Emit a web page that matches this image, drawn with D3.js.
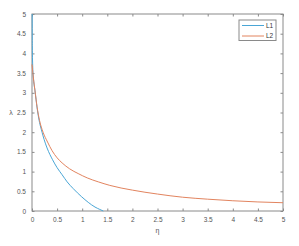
<!DOCTYPE html>
<html>
<head>
<meta charset="utf-8">
<script src="https://cdn.jsdelivr.net/npm/d3@7"></script>
<style>
  body { margin: 0; background: #fff; }
  svg { display: block; }
</style>
</head>
<body>
<svg width="299" height="246"></svg>
<script>
const eta1 = [0.003, 0.006, 0.015, 0.03, 0.06, 0.1, 0.133, 0.2, 0.24, 0.3, 0.41, 0.5, 0.6, 0.7, 0.82, 0.99, 1.12, 1.255, 1.35, 1.42];
const lam1 = [5, 4.2, 3.65, 3.35, 3.05, 2.63, 2.36, 2.0, 1.82, 1.6, 1.3, 1.1, 0.92, 0.74, 0.57, 0.36, 0.22, 0.1, 0.04, 0];
const eta2 = [0, 0.03, 0.06, 0.1, 0.15, 0.22, 0.31, 0.4, 0.5, 0.6, 0.75, 0.92, 1.1, 1.32, 1.55, 2, 2.5, 3, 3.5, 4, 4.5, 5];
const lam2 = [3.72, 3.35, 3.05, 2.65, 2.3, 2.0, 1.75, 1.53, 1.35, 1.22, 1.07, 0.95, 0.84, 0.74, 0.65, 0.53, 0.43, 0.35, 0.3, 0.26, 0.23, 0.21];
const ticks = [0, 0.5, 1, 1.5, 2, 2.5, 3, 3.5, 4, 4.5, 5];
const names = ["L1", "L2"];
const colors = ["#4aa6d6", "#e2845f"];

const svg = d3.select("svg");
const L = 32, R = 283, T = 14, B = 211;
const x = d3.scaleLinear().domain([0, 5]).range([L, R]);
const y = d3.scaleLinear().domain([0, 5]).range([B, T]);
const fmt = d => String(d);
const font = "Liberation Sans, Arial, sans-serif";
const axisCol = "#8a8a8a";

function styleAxis(g, showText) {
  g.select(".domain").remove();
  g.selectAll(".tick line").attr("stroke", axisCol);
  g.selectAll(".tick text").attr("fill", "#555").attr("font-size", "6.5px").attr("font-family", font);
  if (!showText) g.selectAll(".tick text").remove();
}

svg.append("g").attr("transform", `translate(0,${B})`)
  .call(d3.axisBottom(x).tickValues(ticks).tickFormat(fmt).tickSizeInner(-2.5).tickSizeOuter(0).tickPadding(6))
  .call(g => styleAxis(g, true));
svg.append("g").attr("transform", `translate(0,${T})`)
  .call(d3.axisTop(x).tickValues(ticks).tickSizeInner(-2.5).tickSizeOuter(0))
  .call(g => styleAxis(g, false));
svg.append("g").attr("transform", `translate(${L},0)`)
  .call(d3.axisLeft(y).tickValues(ticks).tickFormat(fmt).tickSizeInner(-2.5).tickSizeOuter(0).tickPadding(6))
  .call(g => styleAxis(g, true));
svg.append("g").attr("transform", `translate(${R},0)`)
  .call(d3.axisRight(y).tickValues(ticks).tickSizeInner(-2.5).tickSizeOuter(0))
  .call(g => styleAxis(g, false));

svg.append("rect")
  .attr("x", L).attr("y", T).attr("width", R - L).attr("height", B - T)
  .attr("fill", "none").attr("stroke", axisCol).attr("stroke-width", 1);

const line = d3.line().x(d => x(d[0])).y(d => y(d[1])).curve(d3.curveMonotoneX);
const series = [d3.zip(eta1, lam1), d3.zip(eta2, lam2)];

svg.append("g")
  .selectAll("path").data(series).join("path")
  .attr("d", line)
  .attr("fill", "none")
  .attr("stroke", (d, i) => colors[i])
  .attr("stroke-width", 1);

// axis labels
svg.append("text").attr("x", (L + R) / 2).attr("y", 233)
  .attr("text-anchor", "middle").attr("font-size", "7px").attr("font-family", font)
  .attr("fill", "#555").text("η");
svg.append("text").attr("x", 11).attr("y", (T + B) / 2 + 2)
  .attr("text-anchor", "middle").attr("font-size", "7px").attr("font-family", font)
  .attr("fill", "#555").text("λ");

// legend
const lg = svg.append("g");
lg.append("rect").attr("x", 239).attr("y", 20).attr("width", 37).attr("height", 20.5)
  .attr("fill", "#fff").attr("stroke", axisCol).attr("stroke-width", 1);
names.forEach((n, i) => {
  const ly = 25.5 + i * 10.5;
  lg.append("line").attr("x1", 242).attr("x2", 264).attr("y1", ly).attr("y2", ly)
    .attr("stroke", colors[i]).attr("stroke-width", 1);
  lg.append("text").attr("x", 266).attr("y", ly + 2.3)
    .attr("font-size", "6.5px").attr("font-family", font).attr("fill", "#333").text(n);
});
</script>
</body>
</html>
